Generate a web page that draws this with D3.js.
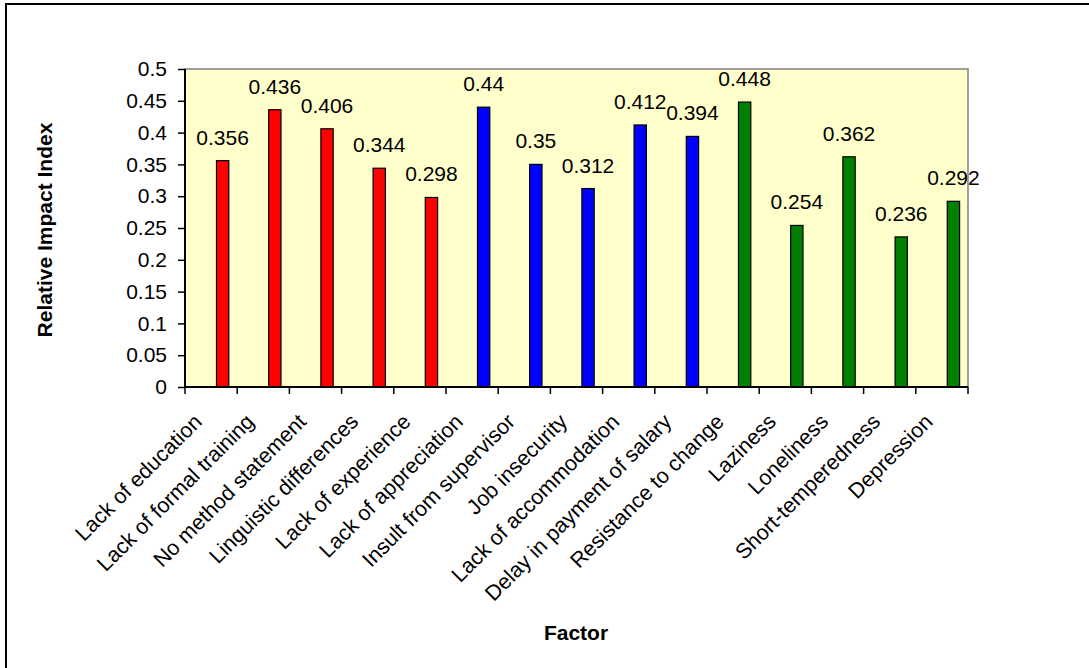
<!DOCTYPE html>
<html>
<head>
<meta charset="utf-8">
<script src="https://cdn.jsdelivr.net/npm/d3@7"></script>
<style>
  html, body { margin: 0; padding: 0; background: #fff; }
  svg { display: block; font-family: "Liberation Sans", Arial, sans-serif; }
</style>
</head>
<body>
<svg id="chart" width="1089" height="668"></svg>
<script>
const categories = [
  "Lack of education", "Lack of formal training", "No method statement",
  "Linguistic differences", "Lack of experience", "Lack of appreciation",
  "Insult from supervisor", "Job insecurity", "Lack of accommodation",
  "Delay in payment of salary", "Resistance to change", "Laziness",
  "Loneliness", "Short-temperedness", "Depression"
];
const values = [0.356, 0.436, 0.406, 0.344, 0.298, 0.44, 0.35, 0.312, 0.412, 0.394, 0.448, 0.254, 0.362, 0.236, 0.292];
const groups = ["red", "red", "red", "red", "red", "blue", "blue", "blue", "blue", "blue", "green", "green", "green", "green", "green"];
const groupColors = { red: "#FF0000", blue: "#0000FF", green: "#008000" };
const yTicks = [0, 0.05, 0.1, 0.15, 0.2, 0.25, 0.3, 0.35, 0.4, 0.45, 0.5];
const yTitle = "Relative Impact Index";
const xTitle = "Factor";

const svg = d3.select("#chart");
const pLeft = 185, pRight = 968, pTop = 69, pBottom = 387;

// outer chart border
svg.append("rect")
  .attr("x", 6).attr("y", 4).attr("width", 1100).attr("height", 700)
  .attr("fill", "#fff").attr("stroke", "#000").attr("stroke-width", 2);

const x = d3.scaleBand().domain(categories).range([pLeft, pRight]).padding(0);
const y = d3.scaleLinear().domain([0, 0.5]).range([pBottom, pTop]);

// plot area
svg.append("rect")
  .attr("x", pLeft).attr("y", pTop).attr("width", pRight - pLeft).attr("height", pBottom - pTop)
  .attr("fill", "#FFFFCC").attr("stroke", "#808080").attr("stroke-width", 1.5);

const bw = x.bandwidth();
const barOff = bw * 0.603, barW = bw * 0.236;

svg.append("g").selectAll("rect").data(categories).join("rect")
  .attr("x", d => x(d) + barOff)
  .attr("y", (d, i) => y(values[i]))
  .attr("width", barW)
  .attr("height", (d, i) => y(0) - y(values[i]))
  .attr("fill", (d, i) => groupColors[groups[i]])
  .attr("stroke", "#000").attr("stroke-width", 1.2);

// value labels
svg.append("g").selectAll("text").data(categories).join("text")
  .attr("x", d => x(d) + barOff + barW / 2)
  .attr("y", (d, i) => y(values[i]) - 16)
  .attr("text-anchor", "middle")
  .attr("font-size", 21)
  .attr("fill", "#000")
  .text((d, i) => String(values[i]));

// y axis
const yAxis = d3.axisLeft(y).tickValues(yTicks).tickSize(7).tickPadding(11)
  .tickFormat(d => String(+d.toFixed(2)));
const gy = svg.append("g").attr("transform", `translate(${pLeft},0)`).call(yAxis);
gy.select(".domain").attr("stroke", "#000").attr("stroke-width", 2).attr("d", `M0,${pTop}V${pBottom}`);
gy.selectAll(".tick line").attr("stroke", "#000").attr("stroke-width", 1.5);
gy.selectAll(".tick text").attr("font-size", 21).attr("fill", "#000")
  .attr("font-family", "'Liberation Sans', Arial, sans-serif");

// x axis (ticks at band boundaries)
const gx = svg.append("g");
gx.append("line").attr("x1", pLeft).attr("x2", pRight).attr("y1", pBottom).attr("y2", pBottom)
  .attr("stroke", "#000").attr("stroke-width", 2);
const boundaries = categories.map(d => x(d)).concat([pRight]);
gx.selectAll("line.tk").data(boundaries).join("line").attr("class", "tk")
  .attr("x1", d => d).attr("x2", d => d).attr("y1", pBottom).attr("y2", pBottom + 7)
  .attr("stroke", "#000").attr("stroke-width", 1.5);

gx.selectAll("text").data(categories).join("text")
  .attr("transform", d => `translate(${x(d) + bw / 2 - 8},${pBottom + 36}) rotate(-45)`)
  .attr("text-anchor", "end")
  .attr("font-size", 21.5)
  .attr("fill", "#000")
  .text(d => d);

// axis titles
svg.append("text")
  .attr("transform", `translate(52,230) rotate(-90)`)
  .attr("text-anchor", "middle")
  .attr("font-size", 21).attr("font-weight", "bold")
  .text(yTitle);
svg.append("text")
  .attr("x", 576).attr("y", 640)
  .attr("text-anchor", "middle")
  .attr("font-size", 21).attr("font-weight", "bold")
  .text(xTitle);
</script>
</body>
</html>
